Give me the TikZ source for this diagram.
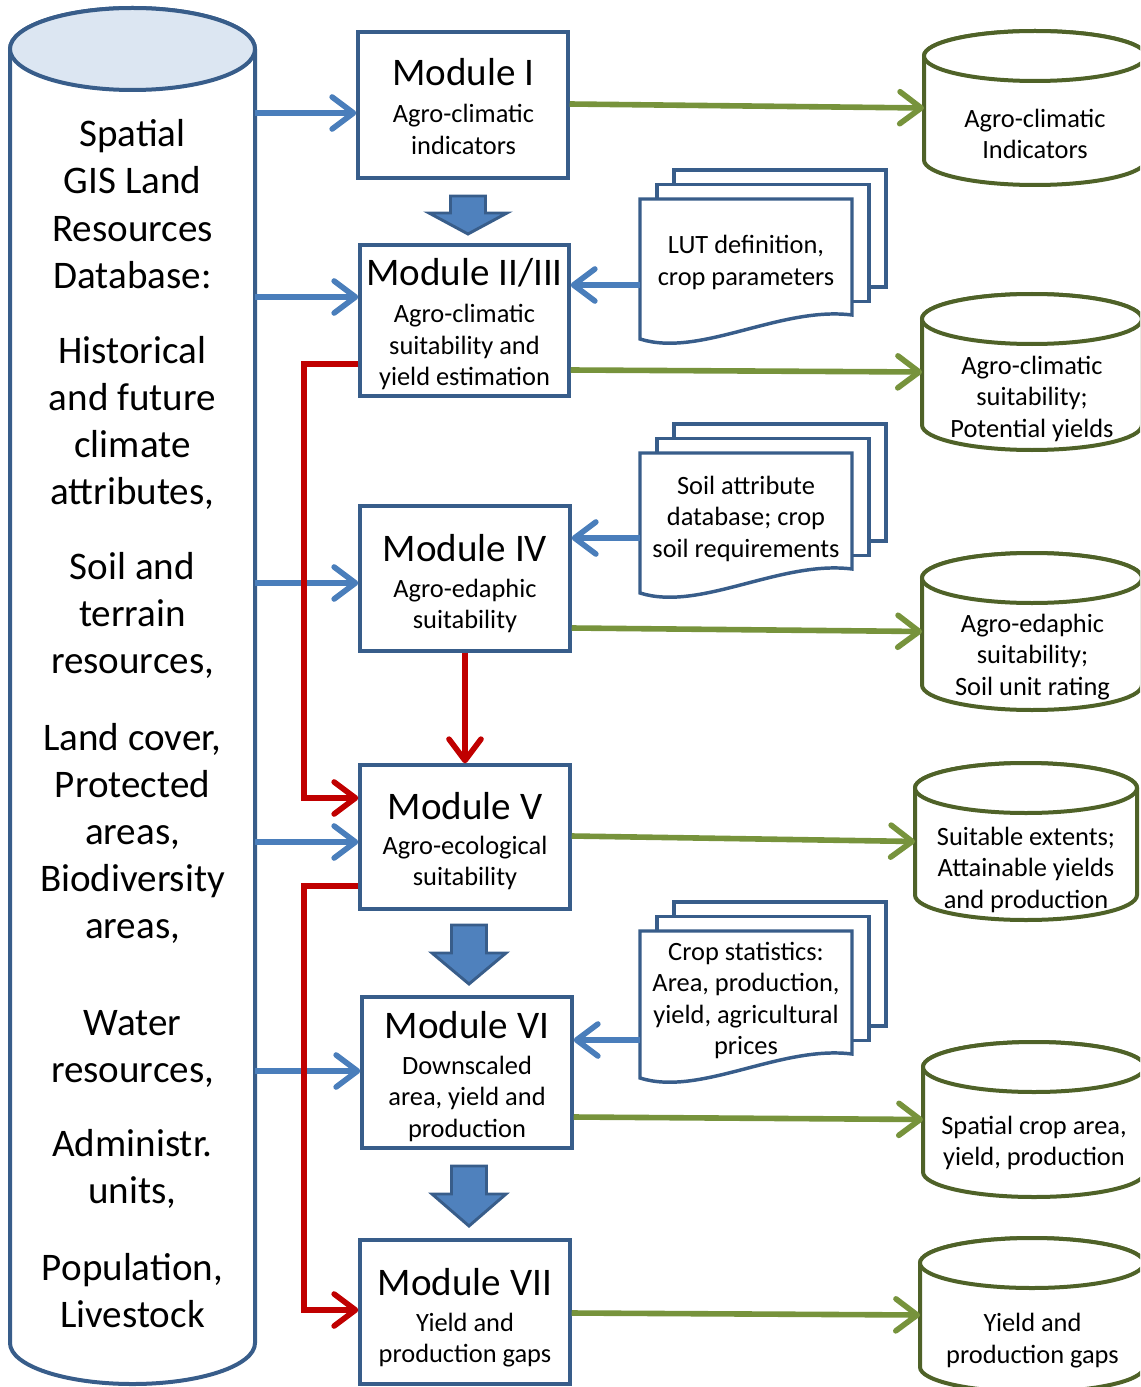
\documentclass[tikz,border=0pt]{standalone}
\usepackage{fontspec}
\setmainfont{Carlito}
\usetikzlibrary{arrows.meta,calc}
\definecolor{boxblue}{HTML}{385D8A}
\definecolor{arrblue}{HTML}{4A7EBB}
\definecolor{fillblue}{HTML}{4F81BD}
\definecolor{topblue}{HTML}{DCE6F2}
\definecolor{arrgreen}{HTML}{77933C}
\definecolor{cylgreen}{HTML}{4F6228}
\definecolor{arrred}{HTML}{C00000}

\newcommand\bigfont{\fontsize{29.3pt}{35pt}\selectfont}
\newcommand\smallfont{\fontsize{19.8pt}{24pt}\selectfont}

% prefix, x, first baseline (px from top), pitch (px), style, list of lines
\newcommand\textlines[6]{%
  \foreach \linetext [count=\i] in {#6}
    \node[#5, anchor=base] (#1\i) at (#2, {-(#3+(\i-1)*#4)}) {\linetext};
}
% name, cx, top-ellipse centre y, bottom-ellipse centre y, rx, ry, style, top fill
\newcommand\cylinder[8]{%
  \node[inner sep=0, outer sep=0, minimum width={2*#5*0.75pt}, minimum height={(#4-#3)*0.75pt}] (#1) at (#2, {-(#3+#4)/2}) {};
  \path[#7] (#1.north west) -- (#1.south west)
     arc[start angle=180, end angle=360, x radius=#5, y radius=#6]
     -- (#1.north east)
     arc[start angle=0, end angle=180, x radius=#5, y radius=#6] -- cycle;
  \path[#7, fill=#8] (#1.north) ellipse [x radius=#5, y radius=#6];
}
% name, left x, front top y, front height
\newcommand\docstack[4]{%
  \path[page] ({#2+34},{-(#3-29)}) rectangle ({#2+34+212},{-(#3-29+#4+1)});
  \path[page] ({#2+17},{-(#3-14.5)}) rectangle ({#2+17+212},{-(#3-14.5+#4+1)});
  \path[page] (#2,{-(#3)}) -- ({#2+212},{-(#3)}) -- ({#2+212},{-(#3+#4)})
     .. controls ({#2+140},{-(#3+#4-9)}) and ({#2+60},{-(#3+#4+43)}) .. (#2,{-(#3+#4+24)}) -- cycle;
  \node[inner sep=0, outer sep=0, minimum width=159pt, minimum height={#4*0.75pt}] (#1) at ({#2+106},{-(#3+#4/2)}) {};
}
% cx, top, head base, tip, head half width
\newcommand\blockarrow[5]{%
  \path[blockarr] ({#1-17.5},{-(#2)}) -- ({#1+17.5},{-(#2)}) -- ({#1+17.5},{-(#3)}) -- ({#1+#5},{-(#3)})
     -- (#1,{-(#4)}) -- ({#1-#5},{-(#3)}) -- ({#1-17.5},{-(#3)}) -- cycle;
}

\tikzset{
  modbox/.style={draw=boxblue, line width=2.6pt, fill=white, inner sep=0, minimum width=157.5pt},
  bigtxt/.style={inner sep=0, font=\bigfont},
  smalltxt/.style={inner sep=0, font=\smallfont},
  conn/.style={line width=4.2pt, -{Straight Barb[length=16pt,width=24pt,round]}},
  barrow/.style={conn, draw=arrblue},
  garrow/.style={conn, draw=arrgreen},
  rarrow/.style={conn, draw=arrred},
  blockarr/.style={fill=fillblue, draw=boxblue, line width=2.2pt, line join=miter},
  page/.style={draw=boxblue, fill=white, line width=2.6pt},
  rcyl/.style={draw=cylgreen, fill=white, line width=3pt},
  lcyl/.style={draw=boxblue, fill=white, line width=3pt},
}

\begin{document}
\begin{tikzpicture}[x=0.75pt, y=0.75pt]
\useasboundingbox (0,0) rectangle (1140,-1387);
\clip (0,0) rectangle (1140,-1387);

% ---------- left database cylinder ----------
\cylinder{db}{132.5}{49}{1343}{122.5}{41}{lcyl}{topblue}

% ---------- output cylinders ----------
\cylinder{c1}{1035}{56}{160}{111}{25}{rcyl}{white}
\cylinder{c2}{1032}{319}{425}{110}{25}{rcyl}{white}
\cylinder{c3}{1032}{578}{685}{110}{25}{rcyl}{white}
\cylinder{c4}{1026}{788}{895}{111}{25}{rcyl}{white}
\cylinder{c5}{1034}{1067}{1172}{111}{25}{rcyl}{white}
\cylinder{c6}{1032}{1263}{1367}{112}{25}{rcyl}{white}

% ---------- document stacks ----------
\docstack{d1}{640}{199}{116}
\docstack{d2}{640}{453}{116}
\docstack{d3}{640}{931}{123}

% ---------- modules ----------
\node[modbox, minimum height=109.5pt] (m1) at (463,-105) {};
\node[modbox, minimum width=156.75pt, minimum height=113.25pt] (m2) at (464.5,-320.5) {};
\node[modbox, minimum height=108.75pt] (m4) at (465,-578.5) {};
\node[modbox, minimum height=108pt] (m5) at (465,-837) {};
\node[modbox, minimum height=113.25pt] (m6) at (467,-1072.5) {};
\node[modbox, minimum height=108pt] (m7) at (465,-1312) {};

% ---------- block arrows ----------
\blockarrow{468}{196}{213}{234}{39}
\blockarrow{469}{925}{953}{984}{37}
\blockarrow{469}{1166}{1194}{1226}{37}

% ---------- connector levels ----------
\coordinate (yb1) at (0,-113);
\coordinate (yb2) at (0,-297);
\coordinate (yb3) at (0,-583);
\coordinate (yb4) at (0,-842);
\coordinate (yb5) at (0,-1071);
\coordinate (yd1) at (0,-285);
\coordinate (yd2) at (0,-538);
\coordinate (yd3) at (0,-1040);
\coordinate (gs1) at (0,-104);
\coordinate (gs2) at (0,-370);
\coordinate (gs3) at (0,-628);
\coordinate (gs4) at (0,-836);
\coordinate (gs5) at (0,-1117);
\coordinate (gs6) at (0,-1313);
\coordinate (rx) at (304,0);
\coordinate (ry1) at (0,-364);
\coordinate (ry2) at (0,-798);
\coordinate (ry3) at (0,-886);
\coordinate (ry4) at (0,-1310);

% ---------- connectors ----------
\draw[barrow] (db.east |- yb1) -- (m1.west |- yb1);
\draw[barrow] (db.east |- yb2) -- (m2.west |- yb2);
\draw[barrow] (db.east |- yb3) -- (m4.west |- yb3);
\draw[barrow] (db.east |- yb4) -- (m5.west |- yb4);
\draw[barrow] (db.east |- yb5) -- (m6.west |- yb5);

\draw[barrow] (d1.west |- yd1) -- (m2.east |- yd1);
\draw[barrow] (d2.west |- yd2) -- (m4.east |- yd2);
\draw[barrow] (d3.west |- yd3) -- (m6.east |- yd3);

\draw[garrow] (m1.east |- gs1) -- (c1.west);
\draw[garrow] (m2.east |- gs2) -- (c2.west);
\draw[garrow] (m4.east |- gs3) -- (c3.west);
\draw[garrow] (m5.east |- gs4) -- (c4.west);
\draw[garrow] (m6.east |- gs5) -- (c5.west);
\draw[garrow] (m7.east |- gs6) -- (c6.west);

\draw[rarrow] (m2.west |- ry1) -- (rx |- ry1) -- (rx |- ry2) -- (m5.west |- ry2);
\draw[rarrow] (m4.south) -- (m5.north);
\draw[rarrow] (m5.west |- ry3) -- (rx |- ry3) -- (rx |- ry4) -- (m7.west |- ry4);

% ---------- texts: left database ----------
\textlines{ga}{132.5}{146.7}{47.2}{bigtxt}{Spatial, GIS Land, Resources, Database:}
\textlines{gb}{132.5}{363.3}{47.2}{bigtxt}{Historical, and future, climate, {attributes,}}
\textlines{gc}{132.5}{579.3}{47.2}{bigtxt}{Soil and, terrain, {resources,}}
\textlines{gd}{132.5}{750}{47.2}{bigtxt}{{Land cover,}, Protected, {areas,}, Biodiversity, {areas,}}
\textlines{ge}{132.5}{1035}{47.2}{bigtxt}{Water, {resources,}}
\textlines{gf}{132.5}{1156.7}{47.2}{bigtxt}{Administr., {units,}}
\textlines{gg}{132.5}{1280}{47.2}{bigtxt}{{Population,}, Livestock}

% ---------- texts: modules ----------
\node[bigtxt, anchor=base] (m1t) at (463.5,-86) {Module I};
\textlines{m1s}{463.5}{123}{31.5}{smalltxt}{Agro-climatic, indicators}
\node[bigtxt, anchor=base] (m2t) at (464.5,-286) {Module II/III};
\textlines{m2s}{464.5}{322.5}{31.5}{smalltxt}{Agro-climatic, suitability and, yield estimation}
\node[bigtxt, anchor=base] (m4t) at (465,-561) {Module IV};
\textlines{m4s}{465}{597}{31.5}{smalltxt}{Agro-edaphic, suitability}
\node[bigtxt, anchor=base] (m5t) at (465,-819) {Module V};
\textlines{m5s}{465}{854}{31.5}{smalltxt}{Agro-ecological, suitability}
\node[bigtxt, anchor=base] (m6t) at (467,-1038) {Module VI};
\textlines{m6s}{467}{1074}{31.5}{smalltxt}{Downscaled, {area, yield and}, production}
\node[bigtxt, anchor=base] (m7t) at (465,-1295) {Module VII};
\textlines{m7s}{465}{1331}{31.5}{smalltxt}{Yield and, production gaps}

% ---------- texts: documents ----------
\textlines{d1s}{746}{254}{32}{smalltxt}{{LUT definition,}, crop parameters}
\textlines{d2s}{746}{494}{31.5}{smalltxt}{Soil attribute, database; crop, soil requirements}
\textlines{d3s}{746}{960}{31.5}{smalltxt}{Crop statistics:, {Area, production,}, {yield, agricultural}, prices}

% ---------- texts: output cylinders ----------
\textlines{c1s}{1035}{127.5}{31.5}{smalltxt}{Agro-climatic, Indicators}
\textlines{c2s}{1032}{374}{31.5}{smalltxt}{Agro-climatic, suitability;, Potential yields}
\textlines{c3s}{1032.5}{632}{31.5}{smalltxt}{Agro-edaphic, suitability;, Soil unit rating}
\textlines{c4s}{1026}{845}{31.5}{smalltxt}{Suitable extents;, Attainable yields, and production}
\textlines{c5s}{1034}{1134}{31.7}{smalltxt}{{Spatial crop area,}, {yield, production}}
\textlines{c6s}{1032.5}{1331}{32}{smalltxt}{Yield and, production gaps}
\end{tikzpicture}
\end{document}
